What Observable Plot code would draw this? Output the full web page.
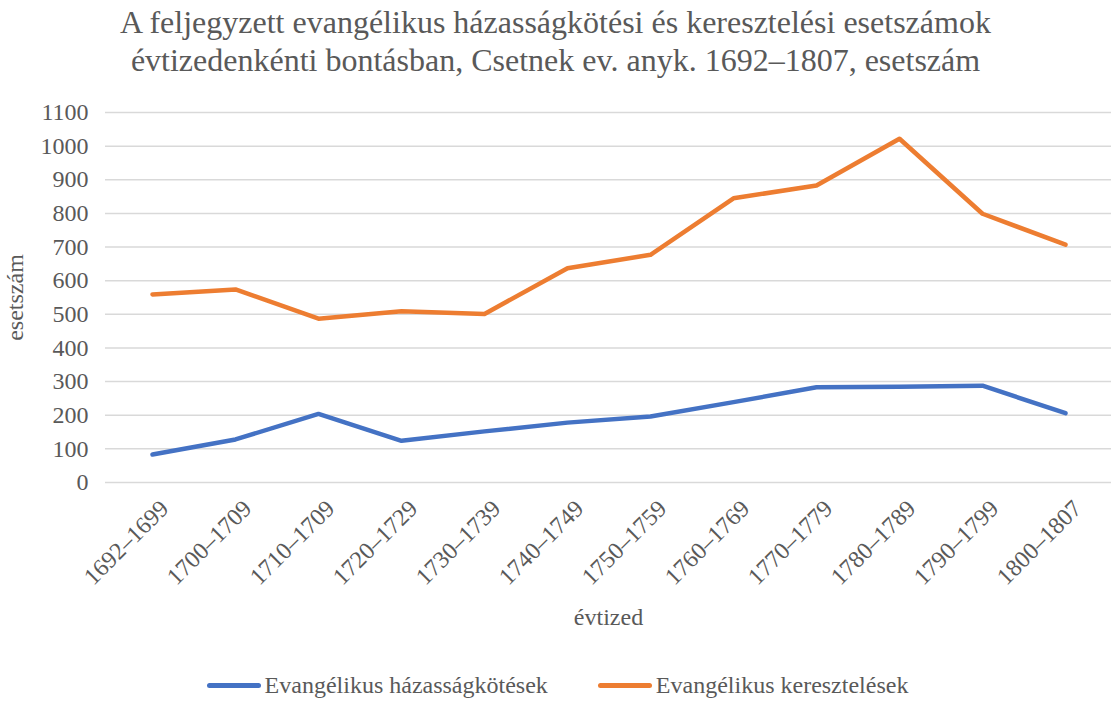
<!DOCTYPE html>
<html>
<head>
<meta charset="utf-8">
<script src="https://cdn.jsdelivr.net/npm/d3@7"></script>
<script src="https://cdn.jsdelivr.net/npm/@observablehq/plot@0.6"></script>
<style>
  html, body { margin: 0; padding: 0; background: #fff; }
  body { width: 1111px; height: 702px; overflow: hidden; font-family: "Liberation Serif", "DejaVu Serif", serif; }
  #title { text-align: center; font-size: 32px; line-height: 38px; color: #595959; padding-top: 3px; height: 87px; }
  #legend { display: flex; justify-content: center; gap: 50px; font-size: 24px; color: #595959; margin-top: 22px; padding-left: 4px; }
  .item { display: flex; align-items: center; }
  .sw { width: 54px; height: 5px; border-radius: 3px; margin-right: 4px; }
</style>
</head>
<body>
<div id="title">A feljegyzett evangélikus házasságkötési és keresztelési esetszámok<br>évtizedenkénti bontásban, Csetnek ev. anyk. 1692–1807, esetszám</div>
<div id="chart"></div>
<div id="legend"></div>
<script>
const decades = ["1692–1699","1700–1709","1710–1709","1720–1729","1730–1739","1740–1749","1750–1759","1760–1769","1770–1779","1780–1789","1790–1799","1800–1807"];
const marriages = [83, 128, 204, 124, 152, 178, 196, 239, 283, 285, 288, 206];
const baptisms = [559, 574, 487, 509, 501, 637, 677, 845, 883, 1022, 799, 707];
const seriesNames = ["Evangélikus házasságkötések", "Evangélikus keresztelések"];
const seriesColors = ["#4472C4", "#ED7D31"];
const yTicks = [0,100,200,300,400,500,600,700,800,900,1000,1100];

const data = [];
decades.forEach((d, i) => {
  data.push({decade: d, series: seriesNames[0], value: marriages[i]});
  data.push({decade: d, series: seriesNames[1], value: baptisms[i]});
});

const ff = "'Liberation Serif', 'DejaVu Serif', serif";
const chart = Plot.plot({
  width: 1111,
  height: 560,
  marginTop: 22,
  marginBottom: 168,
  marginLeft: 105,
  marginRight: 0,
  style: {fontFamily: ff, fontSize: "24px", color: "#595959", background: "#fff"},
  x: {type: "point", domain: decades, padding: 0.5, label: null},
  y: {domain: [0, 1100], label: null},
  color: {domain: seriesNames, range: seriesColors},
  marks: [
    Plot.gridY(yTicks, {stroke: "#d9d9d9", strokeOpacity: 1, strokeWidth: 1.5}),
    Plot.axisY(yTicks, {tickSize: 0, tickPadding: 17, tickFormat: "d", fill: "#595959", label: "esetszám", labelAnchor: "center", labelOffset: 100, labelArrow: "none", fontSize: 24}),
    Plot.axisX({tickSize: 0, tickRotate: -45, tickPadding: 22, dx: 12, fill: "#595959", fontSize: 24, label: null}),
    Plot.axisX({tickSize: 0, ticks: [], label: "évtized", labelAnchor: "center", labelOffset: 142, labelArrow: "none", fill: "#595959", fontSize: 24}),
    Plot.line(data, {x: "decade", y: "value", z: "series", stroke: "series", strokeWidth: 4.5, strokeLinecap: "round", strokeLinejoin: "round"})
  ]
});
document.getElementById("chart").appendChild(chart);

const legend = document.getElementById("legend");
seriesNames.forEach((n, i) => {
  const it = document.createElement("div");
  it.className = "item";
  const sw = document.createElement("div");
  sw.className = "sw";
  sw.style.background = seriesColors[i];
  const t = document.createElement("span");
  t.textContent = n;
  it.appendChild(sw); it.appendChild(t);
  legend.appendChild(it);
});
</script>
</body>
</html>
